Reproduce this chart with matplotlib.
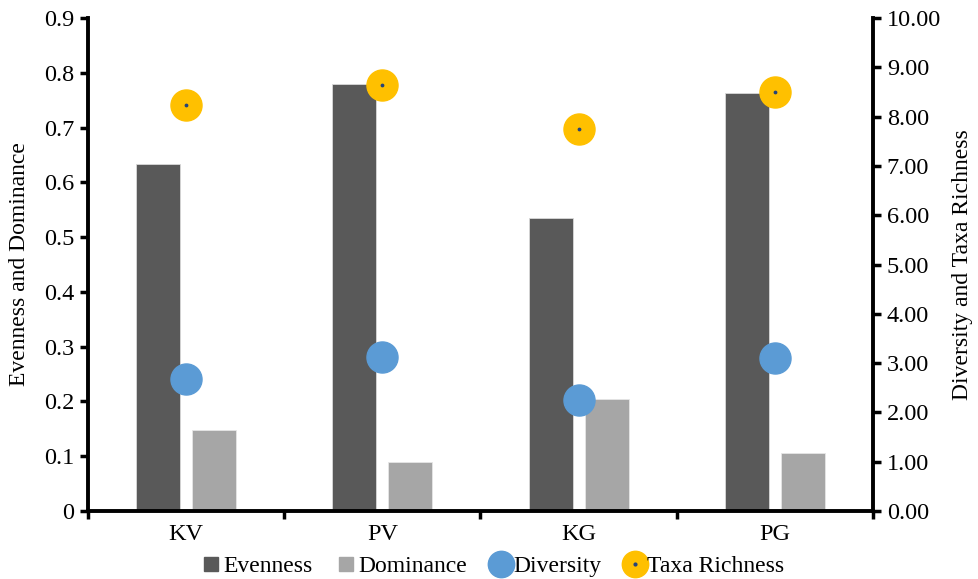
import numpy as np
import matplotlib
matplotlib.use("Agg")
import matplotlib.pyplot as plt
from matplotlib.lines import Line2D
from matplotlib.ticker import FormatStrFormatter, FixedLocator

sites = ["KV", "PV", "KG", "PG"]
evenness = [0.633, 0.779, 0.535, 0.763]
dominance = [0.148, 0.089, 0.204, 0.106]
diversity = [2.68, 3.12, 2.25, 3.10]
taxa_richness = [8.24, 8.64, 7.75, 8.50]

plt.rcParams['font.family'] = ['Liberation Serif', 'DejaVu Serif']

fig = plt.figure(figsize=(9.79, 5.79), dpi=100)
ax = fig.add_axes([0.0899, 0.1174, 0.8018, 0.8515])
x = np.arange(len(sites))

ax.bar(x - 0.143, evenness, width=0.224, color='#595959', edgecolor='#d9d9d9', linewidth=0.6, zorder=2)
ax.bar(x + 0.143, dominance, width=0.224, color='#a6a6a6', edgecolor='#e6e6e6', linewidth=0.6, zorder=2)
ax.set_xlim(-0.5, 3.5)
ax.set_ylim(0, 0.9)
ax.set_yticks(np.arange(0, 0.91, 0.1))
ax.set_yticklabels(['0'] + ['%.1f' % v for v in np.arange(0.1, 0.91, 0.1)])
ax.xaxis.set_major_locator(FixedLocator([-0.5, 0.5, 1.5, 2.5, 3.5]))
ax.set_xticklabels([])
ax.set_xticks(x, minor=True)
ax.set_xticklabels(sites, minor=True)
ax.tick_params(axis='x', which='minor', length=0, labelsize=17.5, pad=9)
ax.tick_params(axis='x', which='major', length=6, width=2.5, direction='out')
ax.tick_params(axis='y', length=6, width=2.5, labelsize=17.5, pad=4)
ax.set_ylabel("Evenness and Dominance", fontsize=17, labelpad=10)
for s in ['top', 'right']:
    ax.spines[s].set_visible(False)
for s in ['left', 'bottom']:
    ax.spines[s].set_linewidth(2.8)

ax2 = ax.twinx()
ax2.scatter(x, diversity, s=500, color='#5b9bd5', zorder=3)
ax2.scatter(x, taxa_richness, s=500, color='#ffc000', zorder=3)
ax2.scatter(x, taxa_richness, s=3, color='#264478', zorder=4)
ax2.set_ylim(0, 10)
ax2.set_yticks(np.arange(0, 10.1, 1))
ax2.yaxis.set_major_formatter(FormatStrFormatter('%.2f'))
ax2.tick_params(axis='y', length=6, width=2.5, labelsize=17.5, pad=4)
ax2.set_ylabel("Diversity and Taxa Richness", fontsize=17, labelpad=8)
for s in ['top', 'left', 'bottom']:
    ax2.spines[s].set_visible(False)
ax2.spines['right'].set_linewidth(2.8)

handles = [
    Line2D([], [], marker='s', linestyle='none', markersize=10, color='#595959'),
    Line2D([], [], marker='s', linestyle='none', markersize=10, color='#a6a6a6'),
    Line2D([], [], marker='o', linestyle='none', markersize=19, color='#5b9bd5'),
    (Line2D([], [], marker='o', linestyle='none', markersize=19, color='#ffc000'),
     Line2D([], [], marker='o', linestyle='none', markersize=2, color='#264478')),
]
labels = ["Evenness", "Dominance", "Diversity", "Taxa Richness"]
fig.legend(handles, labels, loc='center', bbox_to_anchor=(0.503, 0.022), ncol=4,
           frameon=False, fontsize=17, handlelength=0.9, handletextpad=0.05,
           columnspacing=1.0, borderaxespad=0)

fig.savefig("out.png", dpi=100)
